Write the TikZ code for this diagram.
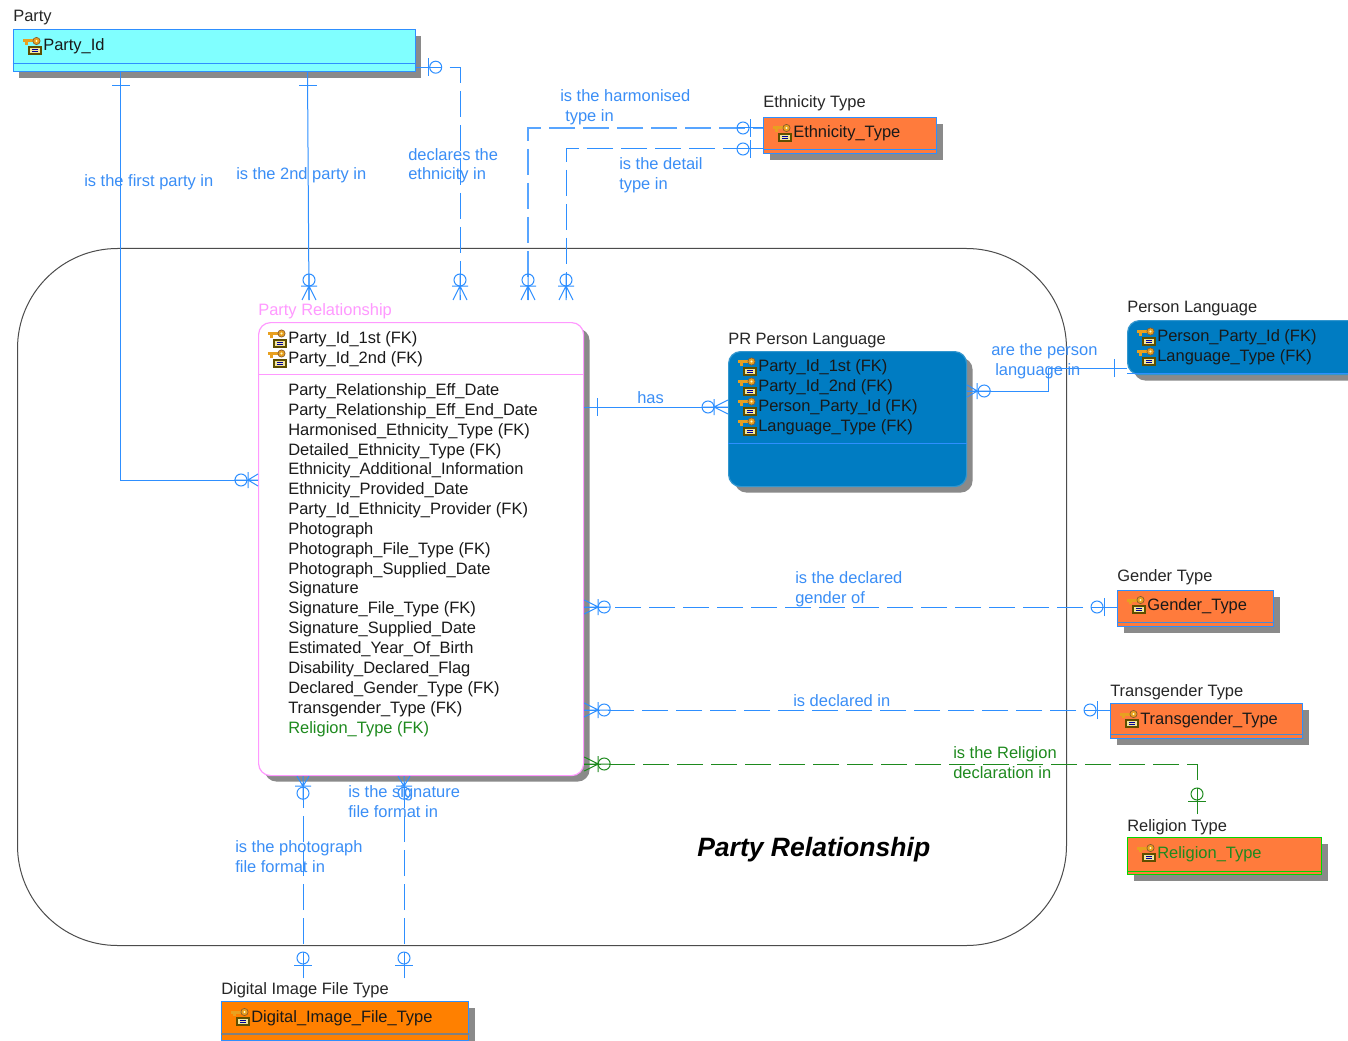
\documentclass[tikz,border=0pt]{standalone}
\usepackage{fontspec}
\setmainfont{Liberation Sans}
\usetikzlibrary{calc,shadows}
\definecolor{lnkblue}{HTML}{2E8FFF}
\definecolor{lblblue}{HTML}{3A8EF6}
\definecolor{lnkgreen}{HTML}{1E8A1E}
\definecolor{shadowgray}{HTML}{8A8A8A}
\definecolor{pinkline}{HTML}{FF99FF}
\definecolor{orangeA}{HTML}{FF7B3C}
\definecolor{orangeB}{HTML}{FF8000}
\definecolor{blueA}{HTML}{007CC2}
\definecolor{partycyan}{HTML}{80FFFF}
\definecolor{keygold}{HTML}{E8A020}
\definecolor{boxolive}{HTML}{5E4E00}
\definecolor{boxcream}{HTML}{F2E6A0}
\tikzset{
  sz/.style 2 args={minimum width=#1*0.75pt,minimum height=#2*0.75pt},
  ent/.style={anchor=north west,inner sep=0pt,line width=0.9pt,draw=lnkblue,
    drop shadow={shadow xshift=4.5pt,shadow yshift=-4.5pt,fill=shadowgray,opacity=1}},
  rnd/.style={rounded corners=9pt},
  namelbl/.style={anchor=base west,inner sep=0pt,font=\fontsize{12.35}{14}\selectfont,text=black!85},
  attr/.style={anchor=base west,inner sep=0pt,font=\fontsize{12.35}{14}\selectfont,text=black!90},
  lbl/.style={anchor=base west,inner sep=0pt,font=\fontsize{12.35}{14}\selectfont,text=lblblue},
  glbl/.style={anchor=base west,inner sep=0pt,font=\fontsize{12.35}{14}\selectfont,text=lnkgreen},
  lnk/.style={draw=lnkblue,line width=0.75pt},
  lnkg/.style={draw=lnkgreen,line width=0.75pt},
  lnkb/.style={draw=lnkblue!80,line width=1.1pt},
  dsh/.style={dash pattern=on 19.5pt off 6pt},
  pics/crow/.style={code={
    \draw[#1] (0,-7)--(14,0)--(0,7) (0,0)--(26,0) (14,-8)--(14,8);
    \draw[#1] (20,0) circle[radius=6];}},
  pics/crowb/.style={code={
    \draw[#1] (0,-6)--(10,0)--(0,6) (0,0)--(24,0) (10,-8)--(10,8);
    \draw[#1] (17,0) circle[radius=6];}},
  pics/zeroone/.style={code={
    \draw[#1] (0,0)--(26,0) (13,-9)--(13,9);
    \draw[#1] (20,0) circle[radius=6];}},
  pics/onebar/.style={code={\draw[#1] (13,-9)--(13,9);}},
  pics/keyicon/.style={code={
    \fill[boxolive] (-15,-5)rectangle(-1,4);
    \fill[boxcream] (-13,-3)rectangle(-3,2);
    \draw[blue!60!black,line width=0.4pt] (-11,-1.5)--(-5,-1.5) (-11,0.7)--(-5,0.7);
    \fill[keygold] (-20,-11.5)rectangle(-8,-8.5);
    \fill[keygold] (-18.5,-8.5)rectangle(-15.5,-6);
    \draw[draw=brown!70!black,fill=keygold,line width=0.5pt] (-6.5,-10) circle[radius=3.6];
    \fill[white!80!yellow] (-6.5,-10) circle[radius=1.2];}},
}
\begin{document}
\begin{tikzpicture}[x=0.75pt,y=-0.75pt]
\clip (0,0) rectangle (1348,1041);
\fill[white] (0,0) rectangle (1348,1041);
% subject area
\node[sz={1049}{697},anchor=north west,inner sep=0pt,draw=black!70,line width=0.75pt,rounded corners=75pt] (area) at (17,248) {};
\node[anchor=base west,inner sep=0pt,font=\fontsize{19.9}{24}\selectfont\bfseries\itshape] (areaname) at (697,856) {Party Relationship};
% entities
\node[ent,sz={402}{42},fill=partycyan] (party) at (12.5,29) {};
\node[namelbl] (partyn) at (13,22) {Party};
\draw[lnkblue,line width=0.9pt] ($(party.south west)+(0,-9)$)--($(party.south east)+(0,-9)$);
\node[ent,rnd,sz={325}{453},draw=pinkline,fill=white] (rel) at (258,322) {};
\node[namelbl,text=pinkline] (reln) at (258,315) {Party Relationship};
\draw[pinkline,line width=0.75pt] ($(rel.north west)+(0,52)$)--($(rel.north east)+(0,52)$);
\node[ent,rnd,sz={238}{135},draw=blueA!80!white,fill=blueA] (prl) at (728,351) {};
\node[namelbl] (prln) at (728,344) {PR Person Language};
\draw[lnkblue,line width=0.75pt] ($(prl.north west)+(0,92)$)--($(prl.north east)+(0,92)$);
\node[ent,rnd,sz={240}{54},draw=blueA!80!white,fill=blueA] (pl) at (1127,320) {};
\node[namelbl] (pln) at (1127,312) {Person Language};
\draw[lnkblue,line width=0.75pt] ($(pl.south west)+(0,-2)$)--($(pl.south east)+(0,-2)$);
\node[ent,sz={173}{36},fill=orangeA] (eth) at (763,117) {};
\node[namelbl] (ethn) at (763,108) {Ethnicity Type};
\draw[lnkblue,line width=0.75pt] ($(eth.south west)+(0,-5)$)--($(eth.south east)+(0,-5)$);
\node[ent,sz={156}{36},fill=orangeA] (gen) at (1117,590) {};
\node[namelbl] (genn) at (1117,581) {Gender Type};
\draw[lnkblue!70!gray,line width=0.75pt] ($(gen.south west)+(0,-5)$)--($(gen.south east)+(0,-5)$);
\node[ent,sz={192}{35},fill=orangeA] (tra) at (1110,703) {};
\node[namelbl] (tran) at (1110,696) {Transgender Type};
\draw[lnkblue!70!gray,line width=0.75pt] ($(tra.south west)+(0,-5)$)--($(tra.south east)+(0,-5)$);
\node[ent,sz={194}{37},fill=orangeA,draw=green!85!black] (rlg) at (1127,837) {};
\node[namelbl] (rlgn) at (1127,831) {Religion Type};
\draw[green!85!black,line width=0.75pt] ($(rlg.south west)+(0,-4)$)--($(rlg.south east)+(0,-4)$);
\node[ent,sz={247}{39},fill=orangeB] (dig) at (221,1001) {};
\node[namelbl] (dign) at (221,994) {Digital Image File Type};
\draw[gray,line width=1.2pt] ($(dig.south west)+(0,-7)$)--($(dig.south east)+(0,-7)$);
% key attributes
\foreach \n/\x/\y/\t in {k1/43/51/{Party\_Id},k2/793/138/{Ethnicity\_Type},k3/288/343.5/{Party\_Id\_1st (FK)},k4/288/363.5/{Party\_Id\_2nd (FK)},k5/758/371.5/{Party\_Id\_1st (FK)},k6/758/391.5/{Party\_Id\_2nd (FK)},k7/758/411.5/{Person\_Party\_Id (FK)},k8/758/431.5/{Language\_Type (FK)},k9/1157/341.5/{Person\_Party\_Id (FK)},k10/1157/361.5/{Language\_Type (FK)},k11/1147/610/{Gender\_Type},k12/1140/724/{Transgender\_Type},k14/251/1022/{Digital\_Image\_File\_Type}}{
  \node[attr] (\n) at (\x,\y) {\t};
  \pic at (\n.base west) {keyicon};
}
\node[attr,text=lnkgreen] (k13) at (1157,858) {Religion\_Type};
\pic at (k13.base west) {keyicon};
% plain attributes
\foreach \n/\y/\t in {a1/395.5/{Party\_Relationship\_Eff\_Date},a2/415.5/{Party\_Relationship\_Eff\_End\_Date},a3/435.5/{Harmonised\_Ethnicity\_Type (FK)},a4/455.5/{Detailed\_Ethnicity\_Type (FK)},a5/474.5/{Ethnicity\_Additional\_Information},a6/494.5/{Ethnicity\_Provided\_Date},a7/514.5/{Party\_Id\_Ethnicity\_Provider (FK)},a8/534.5/{Photograph},a9/554.5/{Photograph\_File\_Type (FK)},a10/574.5/{Photograph\_Supplied\_Date},a11/593.5/{Signature},a12/613.5/{Signature\_File\_Type (FK)},a13/633.5/{Signature\_Supplied\_Date},a14/653.5/{Estimated\_Year\_Of\_Birth},a15/673.5/{Disability\_Declared\_Flag},a16/693.5/{Declared\_Gender\_Type (FK)},a17/713.5/{Transgender\_Type (FK)}}{
  \node[attr] (\n) at (288,\y) {\t};
}
\node[attr,text=lnkgreen] (a18) at (288,733.5) {Religion\_Type (FK)};
% free connector ends
\coordinate (fp1) at ($(rel.north west)+(51,-22)$);
\coordinate (fd) at ($(rel.north west)+(202,-22)$);
\coordinate (fh) at ($(rel.north west)+(270,-22)$);
\coordinate (fe) at ($(rel.north west)+(308,-22)$);
\coordinate (fg) at ($(rlg.north west)+(70,-23)$);
\coordinate (fi1) at ($(dig.north west)+(82,-23)$);
\coordinate (fi2) at ($(dig.north west)+(183,-23)$);
% connectors
\draw[lnk] ($(party.south west)+(108,0)$) |- ($(rel.north west)+(0,158)$);
\pic[rotate=-90] at ($(party.south west)+(108,0)$) {onebar=lnk};
\pic[rotate=180] at ($(rel.north west)+(0,158)$) {crowb=lnk};
\draw[lnk] ($(party.south west)+(295,0)$) -- (fp1);
\pic[rotate=-90] at ($(party.south west)+(295,0)$) {onebar=lnk};
\pic[rotate=90] at (fp1) {crow=lnk};
\draw[lnk,dsh] ($(party.south east)+(0,-5)$) -| (fd);
\pic at ($(party.south east)+(0,-5)$) {zeroone=lnk};
\pic[rotate=90] at (fd) {crow=lnk};
\draw[lnkb,dash pattern=on 19.5pt off 6pt,dash phase=12pt] ($(eth.north west)+(0,11)$) -| (fh);
\pic[rotate=180] at ($(eth.north west)+(0,11)$) {zeroone=lnk};
\pic[rotate=90] at (fh) {crow=lnk};
\draw[lnk,dash pattern=on 19.5pt off 6pt,dash phase=15pt] ($(eth.north west)+(0,32)$) -| (fe);
\pic[rotate=180] at ($(eth.north west)+(0,32)$) {zeroone=lnk};
\pic[rotate=90] at (fe) {crow=lnk};
\draw[lnk] ($(rel.north east)+(0,85)$) -- ($(prl.north west)+(0,56)$);
\pic at ($(rel.north east)+(0,85)$) {onebar=lnk};
\pic[rotate=180] at ($(prl.north west)+(0,56)$) {crow=lnk};
\draw[lnk] ($(prl.north east)+(0,40)$) -- ++(81,0) |- ($(pl.north west)+(0,48)$);
\pic at ($(prl.north east)+(0,40)$) {crowb=lnk};
\pic[rotate=180] at ($(pl.north west)+(0,48)$) {onebar=lnk};
\draw[lnk,dsh] ($(gen.north west)+(0,17)$) -- ($(rel.north east)+(0,285)$);
\pic at ($(rel.north east)+(0,285)$) {crow=lnk};
\pic[rotate=180] at ($(gen.north west)+(0,17)$) {zeroone=lnk};
\draw[lnk,dsh] ($(tra.north west)+(0,7)$) -- ($(rel.north east)+(0,388)$);
\pic at ($(rel.north east)+(0,388)$) {crow=lnk};
\pic[rotate=180] at ($(tra.north west)+(0,7)$) {zeroone=lnk};
\draw[lnkg,dsh] (fg) |- ($(rel.north east)+(0,442)$);
\pic at ($(rel.north east)+(0,442)$) {crow=lnkg};
\pic[rotate=90] at (fg) {zeroone=lnkg};
\draw[lnk,dsh] (fi1) -- ($(rel.south west)+(45,0)$);
\pic[rotate=-90] at ($(rel.south west)+(45,0)$) {crowb=lnk};
\pic[rotate=90] at (fi1) {zeroone=lnk};
\draw[lnk,dsh] (fi2) -- ($(rel.south west)+(146,0)$);
\pic[rotate=-90] at ($(rel.south west)+(146,0)$) {crowb=lnk};
\pic[rotate=90] at (fi2) {zeroone=lnk};
% connector labels
\foreach \n/\x/\y/\t in {l1/84/187/{is the first party in},l2/236/180/{is the 2nd party in},l3/408/161/{declares the},l4/408/180/{ethnicity in},l5/560/102/{is the harmonised},l6/565/122/{type in},l7/619/170/{is the detail},l8/619/190/{type in},l9/637/403/{has},l10/991/355/{are the person},l11/995/375/{language in},l12/795/583/{is the declared},l13/795/603/{gender of},l14/793/706.5/{is declared in},l15/348/797.5/{is the signature},l16/348/817.5/{file format in},l17/235/852.5/{is the photograph},l18/235/872.5/{file format in}}{
  \node[lbl] (\n) at (\x,\y) {\t};
}
\node[glbl] (l19) at (953,758) {is the Religion};
\node[glbl] (l20) at (953,778) {declaration in};
\end{tikzpicture}
\end{document}
